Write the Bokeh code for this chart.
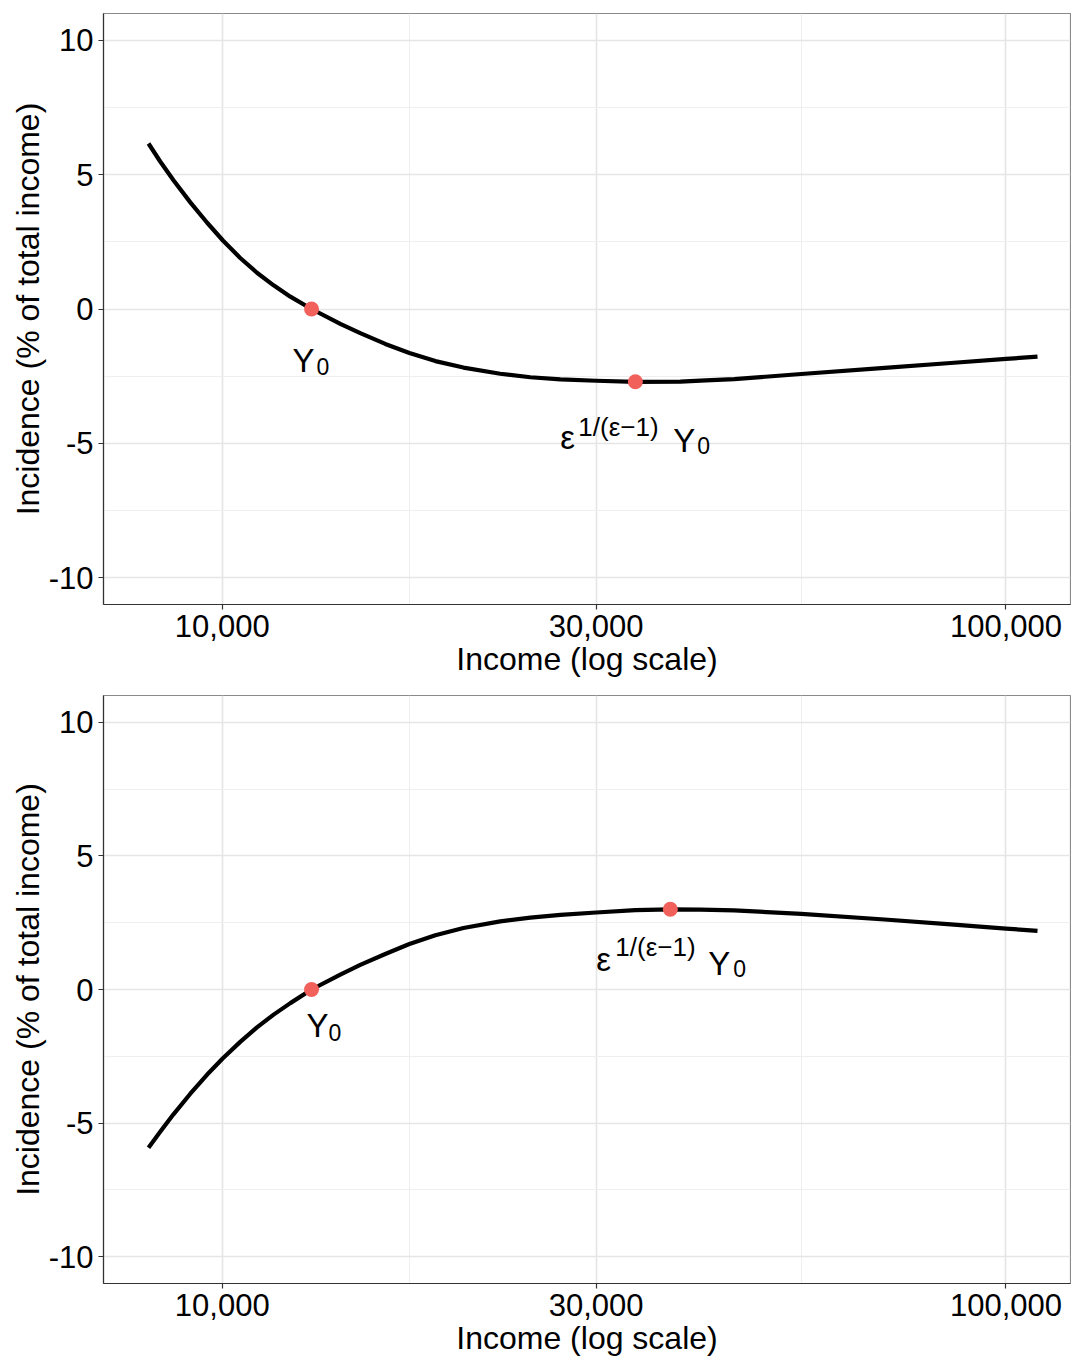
import math
from bokeh.plotting import figure
from bokeh.layouts import column
from bokeh.models import Range1d, FixedTicker
from bokeh.core.properties import value
from bokeh.embed import file_html
from bokeh.resources import INLINE

# ---- data ----
income_top = [8052, 8334, 8665, 9105, 9561, 10020, 10543, 11074, 11629, 12215,
              13000, 14146, 15000, 16144, 17330, 18704, 20310, 22630, 24730, 27010,
              30000, 33660, 38420, 41400, 45000, 54800, 70000, 85000, 100000, 109700]
incidence_top = [6.16, 5.49, 4.79, 3.97, 3.22, 2.55, 1.90, 1.35, 0.88, 0.46,
                 0.0, -0.55, -0.90, -1.30, -1.64, -1.94, -2.18, -2.41, -2.54, -2.62,
                 -2.67, -2.71, -2.70, -2.66, -2.61, -2.42, -2.19, -2.01, -1.86, -1.77]

income_bottom = [8052, 8334, 8665, 9105, 9561, 10020, 10543, 11074, 11629, 12215,
                 13000, 14146, 15000, 16144, 17330, 18704, 20310, 22630, 24730, 27010,
                 30000, 33660, 37300, 40750, 45000, 54800, 70000, 85000, 100000, 109700]
incidence_bottom = [-5.92, -5.32, -4.67, -3.90, -3.19, -2.57, -1.96, -1.42, -0.94, -0.51,
                    0.0, 0.56, 0.92, 1.33, 1.70, 2.03, 2.30, 2.55, 2.69, 2.79,
                    2.88, 2.97, 3.00, 2.99, 2.96, 2.83, 2.62, 2.44, 2.28, 2.19]

key_income_top = [13000, 33660]
key_incidence_top = [0.0, -2.71]
key_income_bottom = [13000, 37300]
key_incidence_bottom = [0.0, 3.00]

x_ticks = [10000, 30000, 100000]
x_tick_labels = ["10,000", "30,000", "100,000"]
y_ticks = [-10, -5, 0, 5, 10]
y_tick_labels = ["-10", "-5", "0", "5", "10"]
y_minor = [-7.5, -2.5, 2.5, 7.5]

x_title = "Income (log scale)"
y_title = "Incidence (% of total income)"

# label pieces: (text, font size px, dx, dy) relative to the key point
eps_sup = "1/(\u03b5\u22121)"
labels_top = [
    [("Y", 33, -19, 51), ("0", 23, 5, 57)],
    [("\u03b5", 33, -75, 56), (eps_sup, 26, -57, 45), ("Y", 33, 38, 59), ("0", 23, 62, 64)],
]
labels_bottom = [
    [("Y", 33, -5, 36), ("0", 23, 17, 43)],
    [("\u03b5", 33, -74, 50), (eps_sup, 26, -55, 38), ("Y", 33, 38, 54), ("0", 23, 63, 59)],
]

FONT = "Liberation Sans"
x_lo = 10 ** 3.8485
x_hi = 10 ** 5.0823
x_minor = [math.sqrt(x_ticks[0] * x_ticks[1]), math.sqrt(x_ticks[1] * x_ticks[2])]


def panel(income, incidence, kx, ky, labels, height, b_top, b_bottom):
    p = figure(width=1071, height=height, x_axis_type="log",
               x_range=Range1d(x_lo, x_hi), y_range=Range1d(-11, 11),
               output_backend="svg", toolbar_location=None,
               min_border_left=103, min_border_right=1,
               min_border_top=b_top, min_border_bottom=b_bottom)
    p.background_fill_color = "white"
    p.border_fill_color = "white"
    p.outline_line_color = "#8a8a8a"
    p.outline_line_width = 1.2

    p.xaxis.ticker = FixedTicker(ticks=x_ticks, minor_ticks=x_minor)
    p.yaxis.ticker = FixedTicker(ticks=y_ticks, minor_ticks=y_minor)
    p.xaxis.major_label_overrides = dict(zip(x_ticks, x_tick_labels))
    p.yaxis.major_label_overrides = dict(zip(y_ticks, y_tick_labels))

    for ax in (p.xaxis, p.yaxis):
        ax.axis_line_color = "#333333"
        ax.axis_line_width = 1.2
        ax.major_tick_line_color = "#333333"
        ax.major_tick_line_width = 1.2
        ax.major_tick_in = 0
        ax.major_tick_out = 5
        ax.minor_tick_line_color = None
        ax.major_label_text_font = FONT
        ax.major_label_text_font_size = "31px"
        ax.major_label_text_color = "black"
        ax.axis_label_text_font = FONT
        ax.axis_label_text_font_size = "32px"
        ax.axis_label_text_font_style = "normal"
        ax.axis_label_text_color = "black"
    p.xaxis.axis_label = x_title
    p.yaxis.axis_label = y_title
    p.xaxis.major_label_standoff = 5
    p.xaxis.axis_label_standoff = 1
    p.yaxis.major_label_standoff = 5
    p.yaxis.axis_label_standoff = 0

    for g in (p.xgrid, p.ygrid):
        g.grid_line_color = "#e5e5e5"
        g.grid_line_width = 1.6
        g.minor_grid_line_color = "#efefef"
        g.minor_grid_line_width = 1.1

    p.line(income, incidence, line_color="black", line_width=4.2, line_join="round")
    p.scatter(kx, ky, size=15, fill_color="#F2605C", line_color=None)

    for i, pieces in enumerate(labels):
        for (t, fs, dx, dy) in pieces:
            p.text(x=[kx[i]], y=[ky[i]], text=[t], x_offset=dx, y_offset=dy,
                   text_font=value(FONT), text_font_size=value(f"{fs}px"),
                   text_align="left", text_baseline="alphabetic", text_color="black")
    return p


p1 = panel(income_top, incidence_top, key_income_top, key_incidence_top,
           labels_top, 690, 13, 86)
p2 = panel(income_bottom, incidence_bottom, key_income_bottom, key_incidence_bottom,
           labels_bottom, 668, 5, 72)

layout = column(p1, p2, spacing=0)
open("out.html", "w").write(file_html(layout, INLINE))
